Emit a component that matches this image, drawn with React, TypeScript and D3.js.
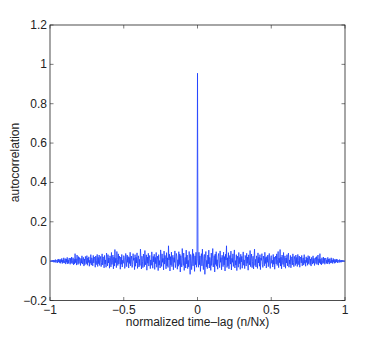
import { useEffect, useRef } from "react";
import * as d3 from "d3";

// autocorrelation values for lags 1..300 (positive side, lag / 300 = normalized lag)
// the negative side is the same curve mirrored, as the autocorrelation is symmetric
const zeroLag = 0.955;
const positiveLags = [
  0.012, -0.031, 0.045, -0.018, 0.027, -0.052, 0.008, 0.038, -0.024, 0.061, -0.011, -0.043, 0.022, 0.034, -0.067, 0.015, 0.049, -0.029, 0.004, -0.038,
  0.031, -0.014, 0.056, -0.035, 0.019, 0.002, -0.047, 0.041, -0.022, 0.013, 0.064, -0.03, -0.009, 0.028, -0.055, 0.036, -0.017, 0.048, -0.026, 0.007,
  -0.041, 0.025, 0.039, -0.012, -0.033, 0.052, -0.006, 0.018, -0.044, 0.03, 0.011, -0.028, 0.046, -0.019, 0.023, -0.05, 0.035, 0.006, 0.078, -0.032,
  0.017, -0.024, 0.043, -0.039, 0.009, 0.029, -0.015, 0.051, -0.045, 0.014, -0.006, 0.037, -0.027, 0.022, 0.057, -0.035, 0.003, -0.02, 0.033, -0.048,
  0.026, 0.008, -0.031, 0.044, -0.013, 0.019, -0.042, 0.035, -0.004, 0.024, -0.036, 0.012, 0.047, -0.021, 0.006, -0.038, 0.029, 0.015, -0.025, 0.04,
  -0.011, 0.021, -0.046, 0.032, 0.005, -0.019, 0.054, -0.028, 0.013, 0.036, -0.033, -0.002, 0.025, -0.04, 0.018, 0.061, -0.022, 0.009, -0.03, 0.027,
  0.011, -0.037, 0.042, -0.009, 0.02, -0.026, 0.033, -0.043, 0.016, 0.004, 0.038, -0.018, -0.032, 0.026, 0.007, -0.024, 0.045, -0.012, 0.019, -0.035,
  0.023, -0.006, 0.031, -0.028, 0.012, 0.039, -0.02, -0.037, 0.017, 0.028, -0.011, 0.005, -0.03, 0.034, -0.016, 0.021, -0.041, 0.01, 0.026, -0.014,
  0.037, -0.022, 0.008, 0.049, -0.033, 0.015, -0.008, 0.059, -0.025, 0.02, -0.039, 0.031, 0.002, -0.017, 0.044, -0.029, 0.011, 0.027, -0.036, 0.016,
  -0.009, 0.033, -0.024, 0.018, 0.041, -0.031, 0.006, -0.015, 0.029, -0.034, 0.013, 0.022, -0.019, 0.037, -0.007, -0.028, 0.024, 0.01, -0.022, 0.031,
  -0.013, 0.019, -0.027, 0.034, 0.004, -0.018, 0.026, -0.031, 0.012, 0.021, -0.009, 0.029, -0.024, 0.008, 0.017, -0.02, 0.033, -0.011, 0.005, -0.026,
  0.022, -0.007, 0.016, -0.021, 0.028, -0.013, 0.003, 0.024, -0.018, 0.011, -0.025, 0.019, 0.007, -0.015, 0.027, -0.01, 0.014, -0.022, 0.009, 0.018,
  -0.012, 0.023, -0.017, 0.006, 0.031, -0.02, 0.012, -0.008, 0.038, -0.014, 0.01, -0.019, 0.017, 0.004, -0.013, 0.021, -0.009, 0.015, -0.016, 0.008,
  0.016, -0.011, 0.007, -0.014, 0.019, -0.006, 0.011, -0.015, 0.013, 0.003, -0.01, 0.017, -0.008, 0.006, -0.012, 0.014, -0.005, 0.009, -0.011, 0.007,
  -0.008, 0.011, -0.004, 0.009, -0.009, 0.006, 0.002, -0.007, 0.008, -0.005, 0.004, -0.006, 0.005, -0.003, 0.004, -0.002, 0.003, -0.002, 0.001, 0,
];
const lagCount = positiveLags.length;

const xTicks = [-1, -0.5, 0, 0.5, 1];
const xTickLabels = ["\u22121", "\u22120.5", "0", "0.5", "1"];
const yTicks = [-0.2, 0, 0.2, 0.4, 0.6, 0.8, 1, 1.2];
const yTickLabels = ["\u22120.2", "0", "0.2", "0.4", "0.6", "0.8", "1", "1.2"];

const W = 382;
const H = 338;
const FONT = "'Liberation Sans', Arial, sans-serif";

const App = () => {
  const svgRef = useRef<SVGSVGElement | null>(null);

  useEffect(() => {
    const margin = { top: 25, right: 37, bottom: 37.5, left: 50 };
    const width = W - margin.left - margin.right;
    const height = H - margin.top - margin.bottom;

    d3.select(svgRef.current).selectAll("*").remove();
    const svg = d3
      .select(svgRef.current)
      .append("g")
      .attr("transform", `translate(${margin.left}, ${margin.top})`);

    const xScale = d3.scaleLinear().domain([-1, 1]).range([0, width]);
    const yScale = d3.scaleLinear().domain([-0.2, 1.2]).range([height, 0]);

    // full series: mirrored negative lags, zero lag, positive lags
    const series: [number, number][] = [];
    for (let k = lagCount; k >= 1; k--) series.push([-k / lagCount, positiveLags[k - 1]]);
    series.push([0, zeroLag]);
    for (let k = 1; k <= lagCount; k++) series.push([k / lagCount, positiveLags[k - 1]]);

    const line = d3
      .line<[number, number]>()
      .x((d) => xScale(d[0]))
      .y((d) => yScale(d[1]));

    // box and inward ticks (drawn first so the curve stays blue on top)
    svg
      .append("rect")
      .attr("width", width)
      .attr("height", height)
      .attr("fill", "none")
      .attr("stroke", "#222")
      .attr("stroke-width", 0.8);

    const tickLen = 3.5;
    const ticks = svg.append("g").attr("stroke", "#222").attr("stroke-width", 0.6);
    xTicks.forEach((t) => {
      const x = xScale(t);
      ticks.append("line").attr("x1", x).attr("x2", x).attr("y1", height).attr("y2", height - tickLen);
      ticks.append("line").attr("x1", x).attr("x2", x).attr("y1", 0).attr("y2", tickLen);
    });
    yTicks.forEach((t) => {
      const y = yScale(t);
      ticks.append("line").attr("x1", 0).attr("x2", tickLen).attr("y1", y).attr("y2", y);
      ticks.append("line").attr("x1", width).attr("x2", width - tickLen).attr("y1", y).attr("y2", y);
    });

    svg
      .append("path")
      .datum(series)
      .attr("d", line)
      .attr("fill", "none")
      .attr("stroke", "#1a3cff")
      .attr("stroke-width", 0.8)
      .attr("stroke-linejoin", "miter");

    svg
      .selectAll(".xlab")
      .data(xTicks)
      .enter()
      .append("text")
      .attr("x", (d) => xScale(d))
      .attr("y", height + 13)
      .attr("text-anchor", "middle")
      .attr("font-family", FONT)
      .attr("font-size", 12)
      .attr("fill", "#222")
      .text((d, i) => xTickLabels[i]);

    svg
      .selectAll(".ylab")
      .data(yTicks)
      .enter()
      .append("text")
      .attr("x", -3)
      .attr("y", (d) => yScale(d) + 4)
      .attr("text-anchor", "end")
      .attr("font-family", FONT)
      .attr("font-size", 12)
      .attr("fill", "#222")
      .text((d, i) => yTickLabels[i]);

    svg
      .append("text")
      .attr("x", width / 2)
      .attr("y", height + 25.5)
      .attr("text-anchor", "middle")
      .attr("font-family", FONT)
      .attr("font-size", 12)
      .attr("fill", "#222")
      .text("normalized time\u2013lag (n/Nx)");

    svg
      .append("text")
      .attr("transform", `translate(${18.5 - margin.left}, ${162.5 - margin.top}) rotate(-90)`)
      .attr("text-anchor", "middle")
      .attr("font-family", FONT)
      .attr("font-size", 12)
      .attr("fill", "#222")
      .text("autocorrelation");
  }, []);

  return (
    <svg
      ref={svgRef}
      width={W}
      height={H}
      style={{ position: "absolute", left: 0, top: 0, background: "#fff" }}
    ></svg>
  );
};

export default App;
